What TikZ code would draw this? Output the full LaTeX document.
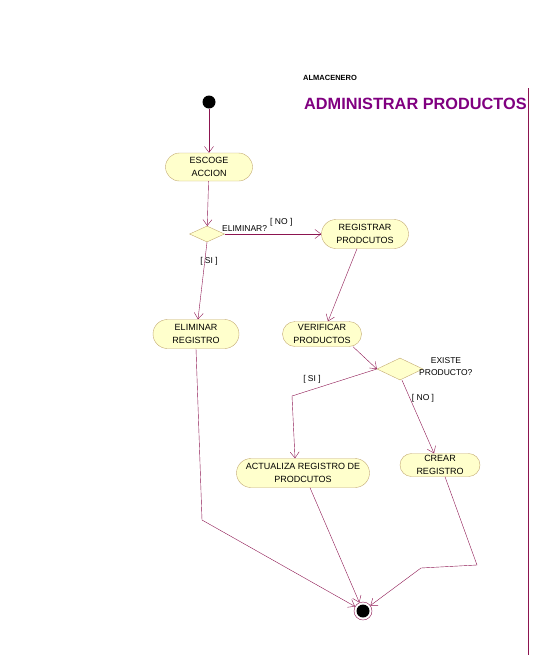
\documentclass[tikz,border=0pt]{standalone}
\usepackage{fontspec}
\setmainfont{Liberation Sans}
\usetikzlibrary{shapes.misc, shapes.geometric, arrows.meta}
\definecolor{linea}{RGB}{140,20,80}
\definecolor{borde}{RGB}{195,170,115}
\definecolor{relleno}{RGB}{255,255,204}
\definecolor{morado}{RGB}{128,0,128}

\begin{document}
\begin{tikzpicture}[x=1pt,y=-1pt,
  act/.style={rounded rectangle, draw=borde, fill=relleno, align=center,
    font=\fontsize{9}{13}\selectfont, inner sep=1pt},
  dec/.style={diamond, draw=borde, fill=relleno, inner sep=0pt},
  flow/.style={draw=linea, -{Straight Barb[length=6pt,width=9pt]}},
  lbl/.style={font=\fontsize{8.5}{11}\selectfont, inner sep=0pt}]
\useasboundingbox (0,0) rectangle (557,662);

\node[font=\fontsize{7.5}{9}\selectfont\bfseries, anchor=west, inner sep=0pt] (rol) at (303,78) {ALMACENERO};
\node[font=\fontsize{16.3}{17}\selectfont\bfseries, text=morado, anchor=west, inner sep=0pt] (titulo) at (304,104) {ADMINISTRAR PRODUCTOS};
\draw[linea, thick] (528,88) -- (528,655);

\node[circle, fill=black, minimum size=13pt, inner sep=0pt] (ini) at (209,102) {};

\node[act, minimum width=89pt, minimum height=28pt] (escoge) at (209,167) {ESCOGE\\ACCION};
\node[dec, minimum width=35pt, minimum height=16pt] (elim) at (207,234) {};
\node[act, minimum width=89pt, minimum height=29pt] (regp) at (365,234) {REGISTRAR\\PRODCUTOS};
\node[act, minimum width=88pt, minimum height=29pt] (elreg) at (196,334) {ELIMINAR\\REGISTRO};
\node[act, minimum width=81pt, minimum height=25pt] (verif) at (322,334) {VERIFICAR\\PRODUCTOS};
\node[dec, minimum width=46pt, minimum height=22pt] (existe) at (400,369) {};
\node[act, minimum width=135pt, minimum height=29pt] (actu) at (303,473) {ACTUALIZA REGISTRO DE\\PRODCUTOS};
\node[act, minimum width=82pt, minimum height=23pt] (crear) at (440,465) {CREAR\\REGISTRO};

\node[circle, draw=linea, fill=white, minimum size=18pt, inner sep=0pt] (fin) at (363,611) {};
\fill (fin.center) circle (6.5pt);

% etiquetas
\node[lbl, anchor=west] (pelim) at (222,229) {ELIMINAR?};
\node[lbl, anchor=west] (no1) at (270,222) {[ NO ]};
\node[lbl] (si1) at (209,261) {[ SI ]};
\node[lbl] (pexiste1) at (446,361) {EXISTE};
\node[lbl, anchor=west] (pexiste2) at (419,373) {PRODUCTO?};
\node[lbl] (si2) at (312,379) {[ SI ]};
\node[lbl] (no2) at (423,398) {[ NO ]};

\coordinate (c1) at (292,396);
\coordinate (c2) at (202,520);
\coordinate (c3) at (477,565);
\coordinate (c4) at (421,568);

\draw[flow] (ini) -- (escoge);
\draw[flow] (escoge) -- (elim);
\draw[flow] (elim.east) -- (regp.west);
\draw[flow] (elim.south) -- ([xshift=2pt]elreg.north);
\draw[flow] ([xshift=-8pt]regp.south) -- ([xshift=6pt]verif.north);
\draw[flow] ([xshift=31pt]verif.south) -- (existe.west);
\draw[flow] (existe.west) -- (c1) -- ([xshift=-8pt]actu.north);
\draw[flow] ([xshift=2pt]existe.south) -- ([xshift=-6pt]crear.north);
\draw[flow] (elreg.south) -- (c2) -- (fin);
\draw[flow] ([xshift=7pt]actu.south) -- (fin);
\draw[flow] ([xshift=5pt]crear.south) -- (c3) -- (c4) -- (fin);

\end{tikzpicture}
\end{document}
